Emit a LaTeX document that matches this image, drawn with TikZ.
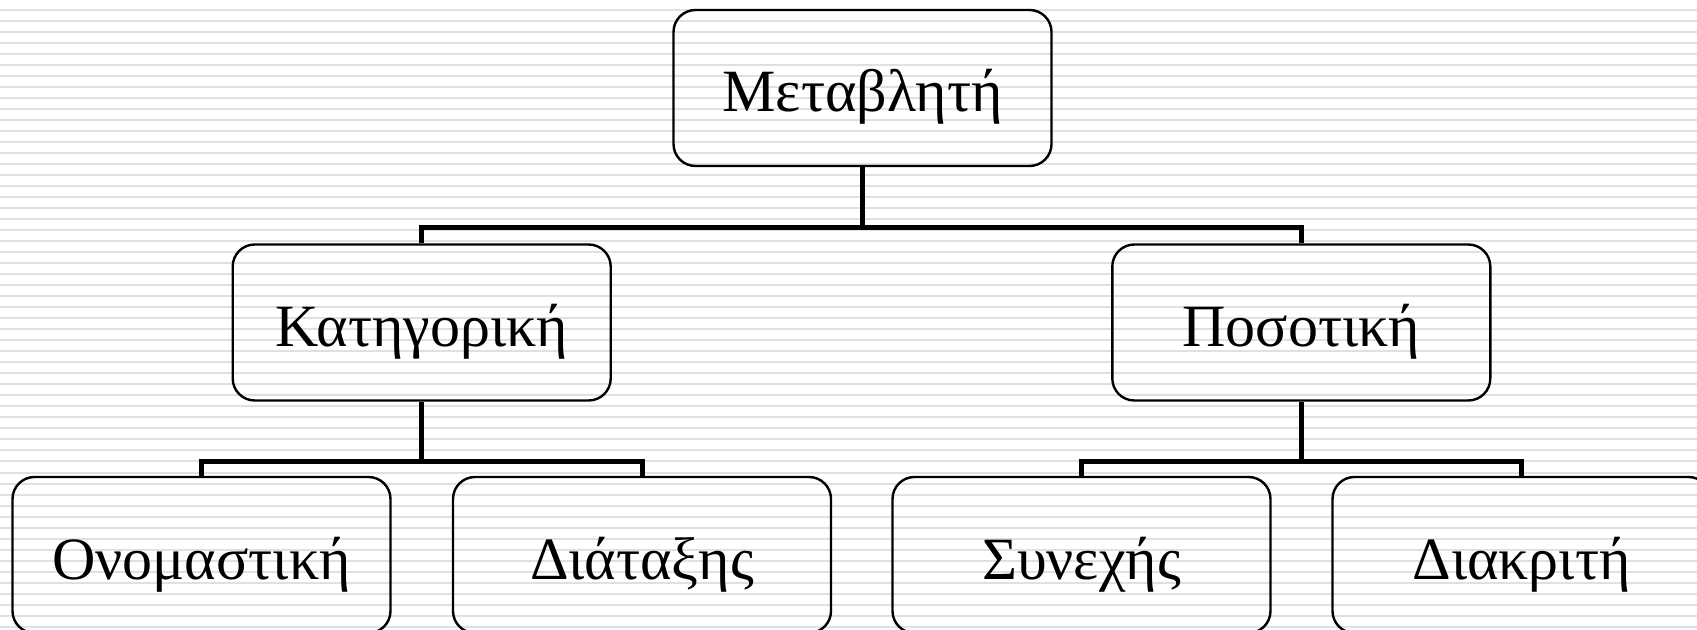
\documentclass[tikz,border=0pt]{standalone}
\usepackage{fontspec}
\setmainfont{Liberation Serif}
\begin{document}
\begin{tikzpicture}[x=0.5pt,y=-0.5pt,
  box/.style={draw=black, line width=1.2pt, rounded corners=11pt, minimum width=189pt, minimum height=78pt,
    inner sep=0pt, font=\fontsize{30}{36}\selectfont, text height=24pt, text depth=0pt},
  conn/.style={draw=black, line width=2.5pt, line join=miter},
  stripe/.style={draw=black!12, line width=1pt}]
\useasboundingbox (0,0) rectangle (1697,630);
\foreach \k in {0,...,57} {
  \draw[stripe] (0,{11*\k-0.5}) -- (1697,{11*\k-0.5});
}
\node[box] (top) at (862.5,88) {Μεταβλητή};
\node[box] (cat) at (421.7,322.5) {Κατηγορική};
\node[box] (pos) at (1301.3,322.5) {Ποσοτική};
\node[box] (ono) at (201.5,555) {Ονομαστική};
\node[box] (dia) at (642,555) {Διάταξης};
\node[box] (syn) at (1081.5,555) {Συνεχής};
\node[box] (dik) at (1521.5,555) {Διακριτή};
\coordinate (j1) at (862.5,228);
\coordinate (j2) at (421.7,462);
\coordinate (j3) at (1301.3,462);
\draw[conn] (top.south) -- (top.south |- j1);
\draw[conn] (cat.north) -- (cat.north |- j1) -- (pos.north |- j1) -- (pos.north);
\draw[conn] (cat.south) -- (cat.south |- j2);
\draw[conn] (ono.north) -- (ono.north |- j2) -- (dia.north |- j2) -- (dia.north);
\draw[conn] (pos.south) -- (pos.south |- j3);
\draw[conn] (syn.north) -- (syn.north |- j3) -- (dik.north |- j3) -- (dik.north);
\end{tikzpicture}
\end{document}
